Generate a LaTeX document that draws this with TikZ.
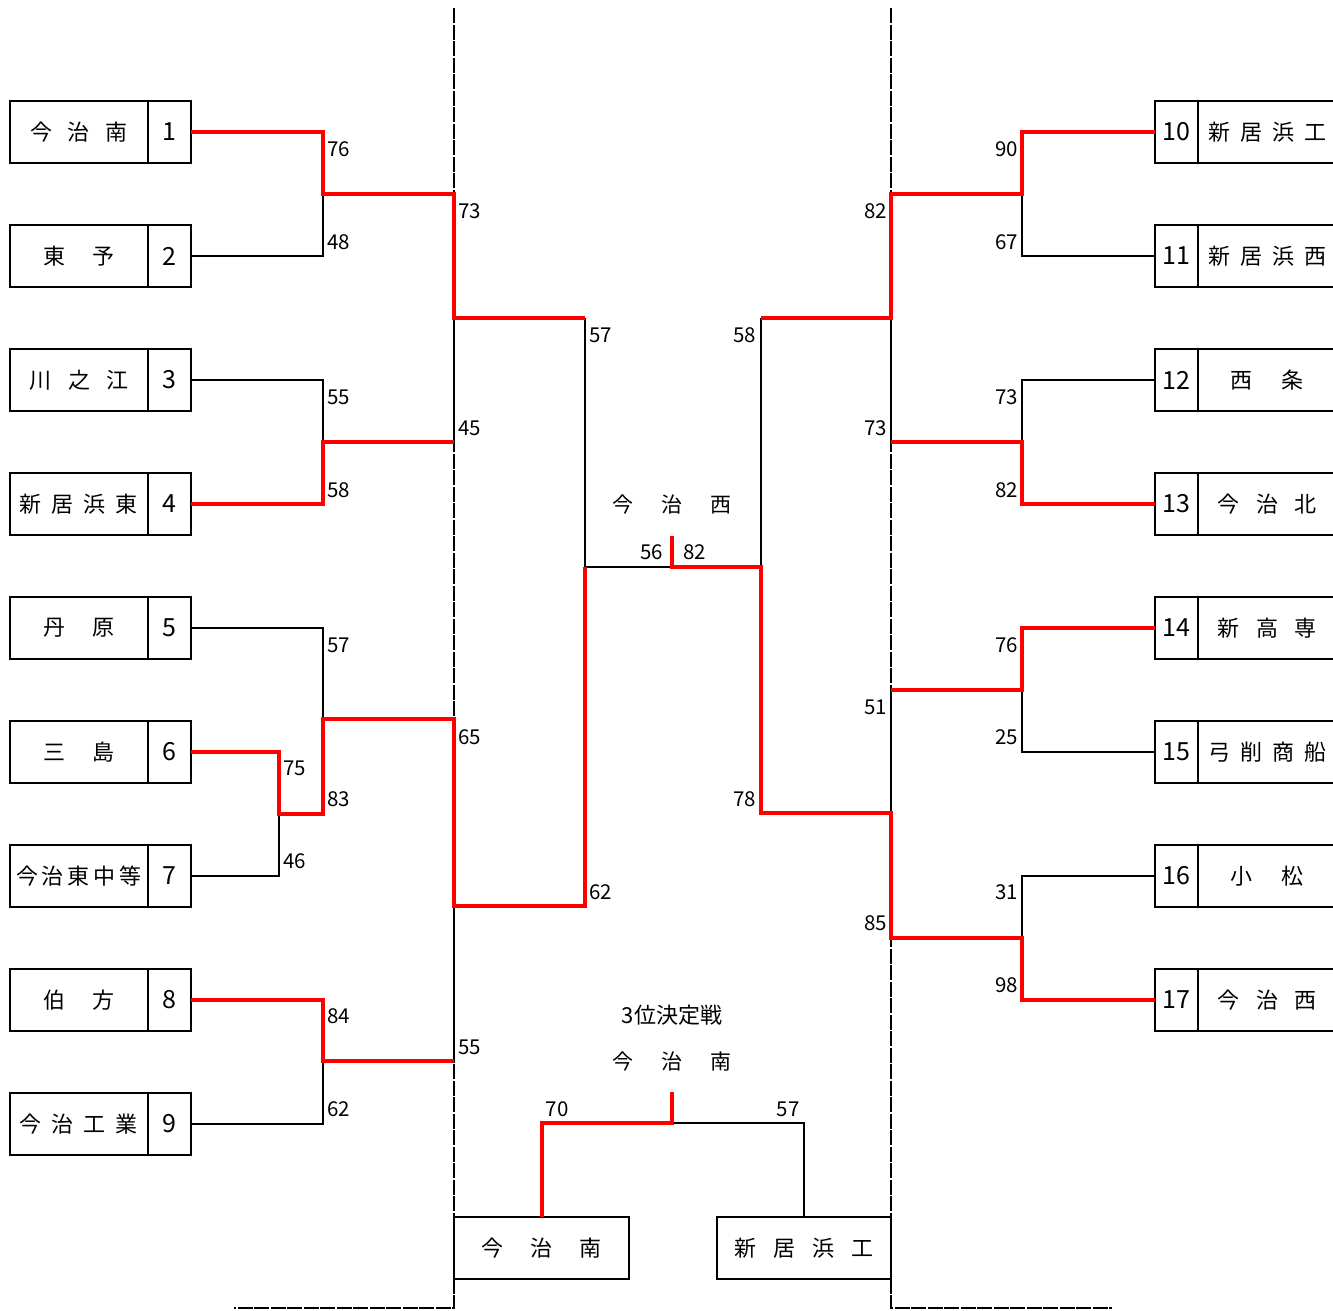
\documentclass[tikz,border=0pt]{standalone}
\usepackage{fontspec}
\setmainfont{Noto Sans CJK JP}
\usetikzlibrary{positioning}
\newcommand{\tname}[2]{\foreach \ch in {#2}{\makebox[#1pt]{\ch}}}

\begin{document}
\begin{tikzpicture}[x=1pt,y=-1pt]
	\tikzstyle{namebox}=[shape=rectangle,draw,line width=2pt,minimum width=138pt,minimum height=62pt,inner sep=0pt,outer sep=0pt,font=\fontsize{22}{22}\selectfont]
	\tikzstyle{seedbox}=[namebox,minimum width=43pt,font=\fontsize{25}{25}\selectfont]
	\tikzstyle{pts}=[inner sep=0pt,font=\fontsize{20.5}{20.5}\selectfont]
	\tikzstyle{headtxt}=[inner sep=0pt,font=\fontsize{21}{21}\selectfont]
	\tikzstyle{losel}=[draw=black,line width=2pt]
	\tikzstyle{winl}=[draw=red,line width=4pt]
	\tikzstyle{sepline}=[draw=black,line width=2pt,dash pattern=on 15pt off 1.5pt]

	\path[use as bounding box,fill=white] (0,0) rectangle (1333,1310);

	%%% dashed separators
	\draw[sepline] (454,8) -- (454,1308) -- (234,1308);
	\draw[sepline] (891,8) -- (891,1308) -- (1112,1308);

	%%% left teams
	\node[namebox] (t1n) at (79,132) {\tname{38}{今,治,南}};
	\node[seedbox, right=0pt of t1n] (t1s) {1};
	\node[namebox] (t2n) at (79,256) {\tname{50}{東,予}};
	\node[seedbox, right=0pt of t2n] (t2s) {2};
	\node[namebox] (t3n) at (79,380) {\tname{38.5}{川,之,江}};
	\node[seedbox, right=0pt of t3n] (t3s) {3};
	\node[namebox] (t4n) at (79,504) {\tname{32}{新,居,浜,東}};
	\node[seedbox, right=0pt of t4n] (t4s) {4};
	\node[namebox] (t5n) at (79,628) {\tname{50}{丹,原}};
	\node[seedbox, right=0pt of t5n] (t5s) {5};
	\node[namebox] (t6n) at (79,752) {\tname{50}{三,島}};
	\node[seedbox, right=0pt of t6n] (t6s) {6};
	\node[namebox] (t7n) at (79,876) {\tname{26}{今,治,東,中,等}};
	\node[seedbox, right=0pt of t7n] (t7s) {7};
	\node[namebox] (t8n) at (79,1000) {\tname{50}{伯,方}};
	\node[seedbox, right=0pt of t8n] (t8s) {8};
	\node[namebox] (t9n) at (79,1124) {\tname{32}{今,治,工,業}};
	\node[seedbox, right=0pt of t9n] (t9s) {9};

	%%% right teams
	\node[seedbox] (t10s) at (1176.5,132) {10};
	\node[namebox, right=0pt of t10s] (t10n) {\tname{32}{新,居,浜,工}};
	\node[seedbox] (t11s) at (1176.5,256) {11};
	\node[namebox, right=0pt of t11s] (t11n) {\tname{32}{新,居,浜,西}};
	\node[seedbox] (t12s) at (1176.5,380) {12};
	\node[namebox, right=0pt of t12s] (t12n) {\tname{51}{西,条}};
	\node[seedbox] (t13s) at (1176.5,504) {13};
	\node[namebox, right=0pt of t13s] (t13n) {\tname{38.5}{今,治,北}};
	\node[seedbox] (t14s) at (1176.5,628) {14};
	\node[namebox, right=0pt of t14s] (t14n) {\tname{38.5}{新,高,専}};
	\node[seedbox] (t15s) at (1176.5,752) {15};
	\node[namebox, right=0pt of t15s] (t15n) {\tname{32}{弓,削,商,船}};
	\node[seedbox] (t16s) at (1176.5,876) {16};
	\node[namebox, right=0pt of t16s] (t16n) {\tname{51}{小,松}};
	\node[seedbox] (t17s) at (1176.5,1000) {17};
	\node[namebox, right=0pt of t17s] (t17n) {\tname{38.5}{今,治,西}};

	%%% joints
	\coordinate (a1) at (323,194);
	\coordinate (a2) at (323,442);
	\coordinate (a3) at (279,814);
	\coordinate (a4) at (323,719);
	\coordinate (a5) at (323,1061);
	\coordinate (b1) at (454,194);
	\coordinate (b2) at (454,442);
	\coordinate (b3) at (454,719);
	\coordinate (b4) at (454,1061);
	\coordinate (c1) at (585,318);
	\coordinate (c2) at (585,906);
	\coordinate (d1) at (585,567);
	\coordinate (f) at (672,567);
	\coordinate (ftop) at (672,536);
	\coordinate (d2) at (761,567);
	\coordinate (e1) at (761,318);
	\coordinate (e2) at (761,813);
	\coordinate (h1) at (891,194);
	\coordinate (h2) at (891,442);
	\coordinate (h3) at (891,690);
	\coordinate (h4) at (891,938);
	\coordinate (g1) at (1022,194);
	\coordinate (g2) at (1022,442);
	\coordinate (g3) at (1022,690);
	\coordinate (g4) at (1022,938);
	\coordinate (q) at (672,1123);
	\coordinate (qtop) at (672,1092);

	%%% losing lines
	\draw[losel] (t2s.east) -| (a1);
	\draw[losel] (t3s.east) -| (a2);
	\draw[losel] (t5s.east) -| (a4);
	\draw[losel] (t7s.east) -| (a3);
	\draw[losel] (t9s.east) -| (a5);
	\draw[losel] (b2) |- (c1);
	\draw[losel] (b4) |- (c2);
	\draw[losel] (c1) -- (d1) -- (f);
	\draw[losel] (t11s.west) -| (g1);
	\draw[losel] (t12s.west) -| (g2);
	\draw[losel] (t15s.west) -| (g3);
	\draw[losel] (t16s.west) -| (g4);
	\draw[losel] (h2) |- (e1);
	\draw[losel] (h3) |- (e2);
	\draw[losel] (e1) -- (d2);

	%%% winning lines
	\draw[winl] (t1s.east) -| (a1) -- (b1) |- (c1);
	\draw[winl] (t4s.east) -| (a2) -- (b2);
	\draw[winl] (t6s.east) -| (a3) -| (a4) -- (b3) |- (c2) -- (d1);
	\draw[winl] (t8s.east) -| (a5) -- (b4);
	\draw[winl] (t10s.west) -| (g1) -- (h1) |- (e1);
	\draw[winl] (t13s.west) -| (g2) -- (h2);
	\draw[winl] (t14s.west) -| (g3) -- (h3);
	\draw[winl] (t17s.west) -| (g4) -- (h4) |- (e2) -- (d2) -- (f) -- (ftop);

	%%% scores left
	\node[pts, anchor=west] (s1) at (327,149) {76};
	\node[pts, anchor=west] (s2) at (327,242) {48};
	\node[pts, anchor=west] (s3) at (327,397) {55};
	\node[pts, anchor=west] (s4) at (327,490) {58};
	\node[pts, anchor=west] (s5) at (327,645) {57};
	\node[pts, anchor=west] (s6) at (283,768) {75};
	\node[pts, anchor=west] (s7) at (283,861) {46};
	\node[pts, anchor=west] (s67) at (327,799) {83};
	\node[pts, anchor=west] (s8) at (327,1016) {84};
	\node[pts, anchor=west] (s9) at (327,1109) {62};
	\node[pts, anchor=west] (s12) at (458,211) {73};
	\node[pts, anchor=west] (s34) at (458,428) {45};
	\node[pts, anchor=west] (s567) at (458,737) {65};
	\node[pts, anchor=west] (s89) at (458,1047) {55};
	\node[pts, anchor=west] (sl1) at (589,335) {57};
	\node[pts, anchor=west] (sl2) at (589,892) {62};

	%%% final
	\node[pts, anchor=east] (fl) at (663,552) {56};
	\node[pts, anchor=west] (fr) at (683,552) {82};
	\node[headtxt] (champ) at (672,505) {\tname{49}{今,治,西}};

	%%% scores right
	\node[pts, anchor=east] (sr1) at (756,335) {58};
	\node[pts, anchor=east] (sr2) at (756,799) {78};
	\node[pts, anchor=east] (s1011) at (887,211) {82};
	\node[pts, anchor=east] (s1213) at (887,428) {73};
	\node[pts, anchor=east] (s1415) at (887,707) {51};
	\node[pts, anchor=east] (s1617) at (887,923) {85};
	\node[pts, anchor=east] (s10) at (1018,149) {90};
	\node[pts, anchor=east] (s11) at (1018,242) {67};
	\node[pts, anchor=east] (s12r) at (1018,397) {73};
	\node[pts, anchor=east] (s13) at (1018,490) {82};
	\node[pts, anchor=east] (s14) at (1018,645) {76};
	\node[pts, anchor=east] (s15) at (1018,737) {25};
	\node[pts, anchor=east] (s16) at (1018,892) {31};
	\node[pts, anchor=east] (s17) at (1018,985) {98};

	%%% third place
	\node[headtxt, font=\fontsize{22}{22}\selectfont] (third) at (672,1015) {3位決定戦};
	\node[headtxt] (thirdw) at (672,1062) {\tname{49}{今,治,南}};
	\node[namebox, minimum width=175pt] (p1) at (541.5,1248) {\tname{49}{今,治,南}};
	\node[namebox, minimum width=174pt] (p2) at (804,1248) {\tname{39}{新,居,浜,工}};
	\draw[losel] (p2.north) |- (q);
	\draw[winl] (p1.north) |- (q) -- (qtop);
	\node[pts] (sp1) at (557,1109) {70};
	\node[pts] (sp2) at (788,1109) {57};
\end{tikzpicture}
\end{document}
